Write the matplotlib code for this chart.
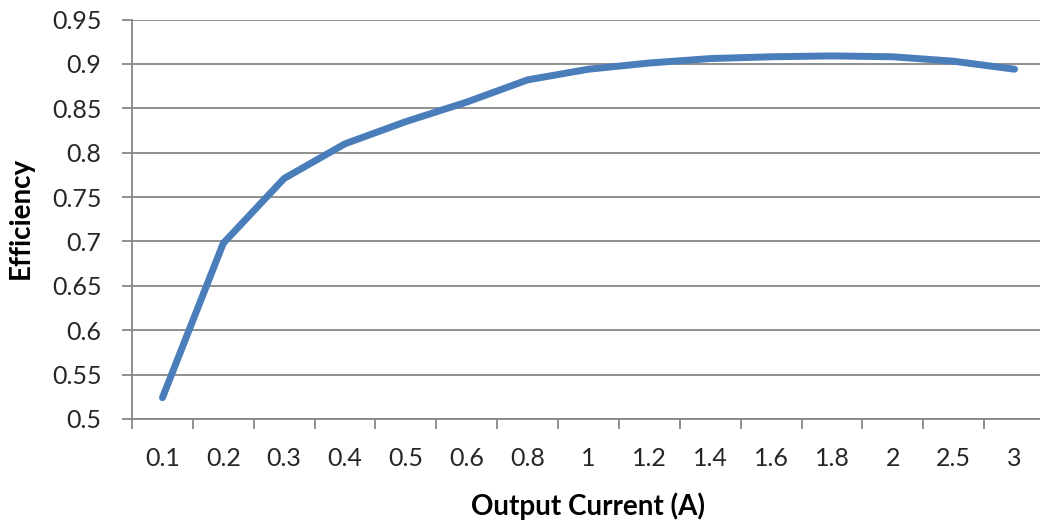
import matplotlib
matplotlib.use("Agg")
import matplotlib.pyplot as plt
import numpy as np

currents = ["0.1", "0.2", "0.3", "0.4", "0.5", "0.6", "0.8", "1", "1.2",
            "1.4", "1.6", "1.8", "2", "2.5", "3"]
efficiency = [0.524, 0.698, 0.771, 0.810, 0.835, 0.857, 0.882, 0.894, 0.901,
              0.906, 0.908, 0.909, 0.908, 0.903, 0.894]
y_ticks = [0.5, 0.55, 0.6, 0.65, 0.7, 0.75, 0.8, 0.85, 0.9, 0.95]
y_labels = ["0.5", "0.55", "0.6", "0.65", "0.7", "0.75", "0.8", "0.85", "0.9", "0.95"]

plt.rcParams["font.family"] = ["Lato", "DejaVu Sans"]
grid_color = "#878787"

fig = plt.figure(figsize=(10.4, 5.27), dpi=100)
ax = fig.add_axes([132 / 1040, 1 - 419 / 527, 913 / 1040, 399.5 / 527])

x = np.arange(len(currents))
ax.plot(x, efficiency, color="#4A7EBB", lw=5, solid_capstyle="round",
        solid_joinstyle="round", zorder=3)

ax.set_xlim(-0.5, len(currents) - 0.5)
ax.set_ylim(0.5, 0.95)
ax.set_yticks(y_ticks)
ax.set_yticklabels(y_labels)
ax.set_xticks(x)
ax.set_xticklabels(currents)
ax.set_xticks(np.arange(len(currents) + 1) - 0.5, minor=True)

ax.yaxis.grid(True, color=grid_color, lw=1.3)
ax.set_axisbelow(True)
for side in ["top", "right"]:
    ax.spines[side].set_visible(False)
for side in ["left", "bottom"]:
    ax.spines[side].set_color(grid_color)
    ax.spines[side].set_linewidth(1.3)

ax.tick_params(axis="y", length=7, width=1.3, color=grid_color, labelsize=18,
               pad=15, labelcolor="#262626")
ax.tick_params(axis="x", which="major", length=0, labelsize=18, pad=20,
               labelcolor="#262626")
ax.tick_params(axis="x", which="minor", length=7, width=1.3, color=grid_color)

ax.set_xlabel("Output Current (A)", fontsize=20, fontweight="bold")
ax.set_ylabel("Efficiency", fontsize=20, fontweight="bold")
ax.xaxis.set_label_coords((588 - 132) / 913, -(506 - 419) / 399.5)
ax.yaxis.set_label_coords(-(132 - 21) / 913, (419 - 218) / 399.5)
ax.xaxis.label.set_va("center")
ax.yaxis.label.set_va("center")

fig.savefig("out.png", dpi=100)
